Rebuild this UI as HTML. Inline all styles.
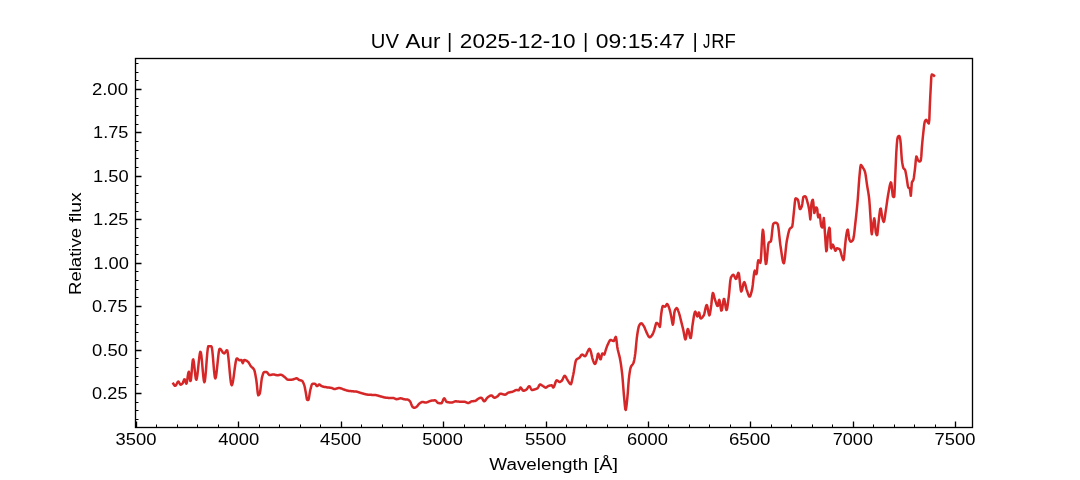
<!DOCTYPE html>
<html lang="en"><head><meta charset="utf-8"><title>UV Aur spectrum</title>
<style>
html,body{margin:0;padding:0;background:#fff;overflow:hidden}
svg{display:block;will-change:transform}
text{font-family:"Liberation Sans",sans-serif;fill:#000}
</style></head><body>
<svg width="1080" height="480" viewBox="0 0 1080 480">
<rect x="0" y="0" width="1080" height="480" fill="#ffffff"/>
<polyline fill="none" stroke="#d62728" stroke-width="2.5" stroke-linejoin="round" stroke-linecap="square" points="173.3,383.7 173.8,384.6 174.3,385.3 174.8,385.7 175.3,385.8 175.8,385.5 176.3,384.7 176.8,383.7 177.3,382.7 177.8,381.9 178.3,381.6 178.8,382.0 179.3,382.8 179.8,383.8 180.3,384.6 180.8,384.7 181.3,384.5 181.8,384.1 182.3,383.6 182.8,383.0 183.3,381.8 183.8,380.3 184.3,379.3 184.8,379.5 185.3,380.9 185.8,382.7 186.3,383.7 186.8,382.8 187.3,379.8 187.8,376.0 188.3,372.9 188.8,371.7 189.3,374.0 189.8,378.0 190.3,381.0 190.8,380.6 191.3,376.4 191.8,370.3 192.3,364.2 192.8,360.0 193.3,359.4 193.8,361.8 194.3,365.9 194.8,370.7 195.3,375.3 195.8,378.7 196.3,379.8 196.8,378.5 197.3,375.5 197.8,371.3 198.3,366.5 198.8,361.6 199.3,357.2 199.8,353.7 200.3,351.9 200.8,352.2 201.3,355.0 201.8,359.6 202.3,365.2 202.8,371.1 203.3,376.4 203.8,380.4 204.3,382.2 204.8,381.3 205.3,377.6 205.8,372.1 206.3,365.6 206.8,358.9 207.3,352.9 207.8,348.4 208.3,346.3 208.8,346.2 209.3,346.2 209.8,346.2 210.3,346.2 210.8,346.2 211.3,346.2 211.8,347.2 212.3,350.6 212.8,355.7 213.3,361.7 213.8,367.8 214.3,373.1 214.8,377.0 215.3,378.4 215.8,377.3 216.3,374.5 216.8,370.4 217.3,365.6 217.8,360.6 218.3,355.8 218.8,352.0 219.3,349.4 219.8,348.8 220.3,349.0 220.8,349.5 221.3,350.1 221.8,350.9 222.3,351.7 222.8,352.4 223.3,353.0 223.8,353.3 224.3,353.4 224.8,352.9 225.3,352.2 225.8,351.4 226.3,350.7 226.8,350.2 227.3,350.6 227.8,352.9 228.3,356.8 228.8,361.7 229.3,367.2 229.8,372.7 230.3,377.8 230.8,381.9 231.3,384.6 231.8,385.3 232.3,384.3 232.8,382.2 233.3,379.2 233.8,375.7 234.3,371.8 234.8,368.0 235.3,364.5 235.8,361.5 236.3,359.4 236.8,358.4 237.3,358.5 237.8,358.9 238.3,359.4 238.8,359.8 239.3,360.2 239.8,360.3 240.3,360.2 240.8,360.1 241.3,360.0 241.8,360.5 242.3,362.3 242.8,363.1 243.3,362.0 243.8,360.5 244.3,360.0 244.8,360.1 245.3,360.2 245.8,360.4 246.3,360.6 246.8,360.9 247.3,361.3 247.8,361.6 248.3,362.1 248.8,362.8 249.3,363.6 249.8,364.5 250.3,365.4 250.8,366.1 251.3,366.7 251.8,367.2 252.3,367.6 252.8,368.0 253.3,368.5 253.8,369.2 254.3,370.1 254.8,371.9 255.3,374.3 255.8,377.1 256.3,380.0 256.8,384.0 257.3,389.1 257.8,393.5 258.3,395.3 258.8,395.0 259.3,394.4 259.8,393.5 260.3,390.8 260.8,386.6 261.3,382.1 261.8,378.4 262.3,376.4 262.8,374.7 263.3,373.2 263.8,372.3 264.3,372.0 264.8,372.0 265.3,372.0 265.8,372.0 266.3,372.0 266.8,372.2 267.3,372.6 267.8,373.2 268.3,373.9 268.8,374.5 269.3,374.9 269.8,375.0 270.3,375.0 270.8,374.9 271.3,374.8 271.8,374.7 272.3,374.6 272.8,374.5 273.3,374.5 273.8,374.5 274.3,374.6 274.8,374.7 275.3,374.9 275.8,375.0 276.3,375.1 276.8,375.2 277.3,375.3 277.8,375.3 278.3,375.2 278.8,375.1 279.3,375.0 279.8,374.8 280.3,374.7 280.8,374.7 281.3,374.8 281.8,375.0 282.3,375.3 282.8,375.6 283.3,376.0 283.8,376.4 284.3,376.8 284.8,377.2 285.3,377.7 285.8,378.2 286.3,378.7 286.8,379.2 287.3,379.5 287.8,379.7 288.3,379.7 288.8,379.7 289.3,379.7 289.8,379.7 290.3,379.7 290.8,379.7 291.3,379.7 291.8,379.7 292.3,379.6 292.8,379.5 293.3,379.4 293.8,379.2 294.3,379.0 294.8,378.8 295.3,378.6 295.8,378.4 296.3,378.3 296.8,378.3 297.3,378.5 297.8,378.9 298.3,379.3 298.8,379.8 299.3,380.0 299.8,380.2 300.3,380.3 300.8,380.4 301.3,380.5 301.8,380.7 302.3,381.0 302.8,381.7 303.3,382.7 303.8,383.9 304.3,385.3 304.8,387.3 305.3,389.9 305.8,392.5 306.3,395.7 306.8,398.9 307.3,400.0 307.8,400.0 308.3,400.0 308.8,398.8 309.3,395.9 309.8,392.6 310.3,390.0 310.8,388.1 311.3,386.2 311.8,384.7 312.3,383.9 312.8,383.8 313.3,383.8 313.8,383.8 314.3,383.8 314.8,383.8 315.3,383.9 315.8,384.6 316.3,385.5 316.8,386.1 317.3,386.1 317.8,385.7 318.3,385.1 318.8,384.6 319.3,384.5 319.8,384.7 320.3,385.1 320.8,385.6 321.3,386.0 321.8,386.2 322.3,386.4 322.8,386.5 323.3,386.7 323.8,386.8 324.3,386.9 324.8,387.0 325.3,387.1 325.8,387.1 326.3,387.2 326.8,387.3 327.3,387.4 327.8,387.5 328.3,387.5 328.8,387.6 329.3,387.6 329.8,387.7 330.3,387.8 330.8,387.8 331.3,387.9 331.8,388.0 332.3,388.2 332.8,388.5 333.3,388.7 333.8,388.9 334.3,389.0 334.8,389.0 335.3,388.9 335.8,388.8 336.3,388.6 336.8,388.5 337.3,388.3 337.8,388.2 338.3,388.1 338.8,388.0 339.3,388.0 339.8,388.1 340.3,388.2 340.8,388.3 341.3,388.5 341.8,388.7 342.3,388.9 342.8,389.1 343.3,389.3 343.8,389.5 344.3,389.6 344.8,389.8 345.3,390.0 345.8,390.1 346.3,390.3 346.8,390.5 347.3,390.6 347.8,390.7 348.3,390.8 348.8,390.9 349.3,390.9 349.8,391.0 350.3,391.1 350.8,391.1 351.3,391.2 351.8,391.2 352.3,391.2 352.8,391.3 353.3,391.3 353.8,391.4 354.3,391.4 354.8,391.5 355.3,391.5 355.8,391.6 356.3,391.6 356.8,391.7 357.3,391.8 357.8,391.9 358.3,392.1 358.8,392.3 359.3,392.4 359.8,392.6 360.3,392.8 360.8,392.9 361.3,393.1 361.8,393.2 362.3,393.4 362.8,393.5 363.3,393.6 363.8,393.8 364.3,393.9 364.8,394.1 365.3,394.2 365.8,394.3 366.3,394.4 366.8,394.5 367.3,394.6 367.8,394.7 368.3,394.7 368.8,394.7 369.3,394.8 369.8,394.8 370.3,394.8 370.8,394.8 371.3,394.8 371.8,394.9 372.3,394.9 372.8,394.9 373.3,394.9 373.8,394.9 374.3,395.0 374.8,395.0 375.3,395.0 375.8,395.1 376.3,395.2 376.8,395.3 377.3,395.4 377.8,395.6 378.3,395.7 378.8,395.9 379.3,396.0 379.8,396.2 380.3,396.3 380.8,396.5 381.3,396.6 381.8,396.7 382.3,396.8 382.8,397.0 383.3,397.1 383.8,397.3 384.3,397.4 384.8,397.5 385.3,397.6 385.8,397.7 386.3,397.8 386.8,397.8 387.3,397.8 387.8,397.8 388.3,397.9 388.8,397.9 389.3,397.9 389.8,397.9 390.3,397.9 390.8,397.9 391.3,397.9 391.8,397.9 392.3,398.0 392.8,398.0 393.3,398.0 393.8,398.1 394.3,398.3 394.8,398.5 395.3,398.8 395.8,399.0 396.3,399.2 396.8,399.2 397.3,399.1 397.8,399.0 398.3,398.9 398.8,398.7 399.3,398.6 399.8,398.4 400.3,398.3 400.8,398.3 401.3,398.4 401.8,398.5 402.3,398.7 402.8,398.9 403.3,399.1 403.8,399.2 404.3,399.3 404.8,399.3 405.3,399.4 405.8,399.4 406.3,399.4 406.8,399.4 407.3,399.5 407.8,399.6 408.3,399.8 408.8,400.1 409.3,400.6 409.8,401.1 410.3,401.7 410.8,402.8 411.3,404.2 411.8,405.5 412.3,406.5 412.8,407.0 413.3,407.4 413.8,407.7 414.3,407.8 414.8,407.7 415.3,407.5 415.8,407.3 416.3,407.0 416.8,406.6 417.3,406.1 417.8,405.4 418.3,404.7 418.8,404.1 419.3,403.6 419.8,403.3 420.3,402.9 420.8,402.6 421.3,402.3 421.8,402.1 422.3,402.0 422.8,402.0 423.3,402.1 423.8,402.2 424.3,402.3 424.8,402.4 425.3,402.5 425.8,402.5 426.3,402.5 426.8,402.4 427.3,402.2 427.8,402.0 428.3,401.8 428.8,401.5 429.3,401.3 429.8,401.1 430.3,400.9 430.8,400.8 431.3,400.7 431.8,400.6 432.3,400.5 432.8,400.5 433.3,400.4 433.8,400.4 434.3,400.3 434.8,400.3 435.3,400.4 435.8,400.7 436.3,401.2 436.8,401.8 437.3,402.3 437.8,402.8 438.3,403.0 438.8,403.1 439.3,403.2 439.8,403.2 440.3,403.3 440.8,403.3 441.3,403.3 441.8,402.9 442.3,401.9 442.8,400.7 443.3,399.4 443.8,398.6 444.3,398.3 444.8,398.8 445.3,399.8 445.8,400.8 446.3,401.7 446.8,402.0 447.3,402.1 447.8,402.2 448.3,402.3 448.8,402.3 449.3,402.4 449.8,402.4 450.3,402.5 450.8,402.5 451.3,402.5 451.8,402.5 452.3,402.4 452.8,402.3 453.3,402.1 453.8,401.9 454.3,401.7 454.8,401.5 455.3,401.3 455.8,401.3 456.3,401.3 456.8,401.4 457.3,401.4 457.8,401.5 458.3,401.6 458.8,401.6 459.3,401.7 459.8,401.7 460.3,401.7 460.8,401.7 461.3,401.7 461.8,401.7 462.3,401.7 462.8,401.7 463.3,401.7 463.8,401.7 464.3,401.7 464.8,401.8 465.3,401.9 465.8,402.1 466.3,402.4 466.8,402.6 467.3,402.8 467.8,402.9 468.3,403.0 468.8,402.9 469.3,402.7 469.8,402.4 470.3,402.0 470.8,401.7 471.3,401.4 471.8,401.3 472.3,401.2 472.8,401.2 473.3,401.2 473.8,401.1 474.3,401.1 474.8,401.0 475.3,400.9 475.8,400.7 476.3,400.3 476.8,399.8 477.3,399.4 477.8,399.0 478.3,398.7 478.8,398.5 479.3,398.2 479.8,398.0 480.3,397.9 480.8,397.7 481.3,397.7 481.8,398.0 482.3,398.7 482.8,399.6 483.3,400.5 483.8,401.1 484.3,401.3 484.8,401.0 485.3,400.5 485.8,399.8 486.3,399.0 486.8,398.3 487.3,397.7 487.8,397.3 488.3,396.9 488.8,396.5 489.3,396.2 489.8,395.9 490.3,395.7 490.8,395.6 491.3,395.5 491.8,395.6 492.3,396.0 492.8,396.5 493.3,397.0 493.8,397.4 494.3,397.7 494.8,397.7 495.3,397.6 495.8,397.3 496.3,397.1 496.8,396.7 497.3,396.4 497.8,396.1 498.3,395.5 498.8,394.9 499.3,394.3 499.8,393.9 500.3,393.7 500.8,393.7 501.3,393.8 501.8,393.9 502.3,394.1 502.8,394.2 503.3,394.4 503.8,394.5 504.3,394.6 504.8,394.7 505.3,394.7 505.8,394.5 506.3,394.1 506.8,393.7 507.3,393.3 507.8,392.9 508.3,392.7 508.8,392.5 509.3,392.4 509.8,392.3 510.3,392.2 510.8,392.1 511.3,392.0 511.8,391.9 512.3,391.8 512.8,391.6 513.3,391.4 513.8,391.1 514.3,390.9 514.8,390.6 515.3,390.3 515.8,390.2 516.3,390.0 516.8,390.0 517.3,390.1 517.8,390.2 518.3,390.3 518.8,390.3 519.3,389.6 519.8,388.4 520.3,387.6 520.8,387.6 521.3,388.2 521.8,389.0 522.3,389.8 522.8,390.5 523.3,390.8 523.8,390.8 524.3,390.6 524.8,390.5 525.3,390.2 525.8,390.0 526.3,389.7 526.8,389.2 527.3,388.5 527.8,387.7 528.3,386.9 528.8,386.4 529.3,386.2 529.8,386.6 530.3,387.5 530.8,388.5 531.3,389.4 531.8,389.9 532.3,390.0 532.8,389.9 533.3,389.8 533.8,389.7 534.3,389.5 534.8,389.4 535.3,389.2 535.8,389.1 536.3,388.9 536.8,388.7 537.3,388.4 537.8,388.0 538.3,387.1 538.8,386.1 539.3,385.1 539.8,384.6 540.3,384.5 540.8,384.7 541.3,384.9 541.8,385.3 542.3,385.6 542.8,386.0 543.3,386.3 543.8,386.6 544.3,387.0 544.8,387.3 545.3,387.6 545.8,387.7 546.3,387.5 546.8,387.2 547.3,386.7 547.8,386.3 548.3,386.0 548.8,385.8 549.3,385.7 549.8,385.6 550.3,385.4 550.8,385.4 551.3,385.3 551.8,385.3 552.3,386.0 552.8,387.0 553.3,387.5 553.8,387.1 554.3,386.0 554.8,384.5 555.3,383.0 555.8,381.5 556.3,380.6 556.8,380.3 557.3,380.5 557.8,380.8 558.3,381.2 558.8,381.6 559.3,381.9 559.8,382.0 560.3,381.8 560.8,381.5 561.3,381.1 561.8,380.7 562.3,380.0 562.8,378.9 563.3,377.8 563.8,376.7 564.3,376.0 564.8,375.8 565.3,376.2 565.8,376.9 566.3,377.8 566.8,378.8 567.3,379.7 567.8,380.4 568.3,381.3 568.8,382.1 569.3,382.9 569.8,383.6 570.3,384.0 570.8,384.2 571.3,383.5 571.8,381.7 572.3,379.3 572.8,376.8 573.3,374.5 573.8,371.8 574.3,368.7 574.8,365.6 575.3,362.9 575.8,360.8 576.3,359.7 576.8,359.3 577.3,358.9 577.8,358.6 578.3,358.4 578.8,358.1 579.3,357.8 579.8,357.3 580.3,356.6 580.8,355.8 581.3,355.1 581.8,354.7 582.3,354.6 582.8,354.8 583.3,355.2 583.8,355.6 584.3,356.0 584.8,356.2 585.3,356.1 585.8,355.5 586.3,354.6 586.8,353.4 587.3,352.3 587.8,351.3 588.3,350.3 588.8,349.3 589.3,348.8 589.8,349.1 590.3,350.1 590.8,351.5 591.3,353.4 591.8,355.8 592.3,358.1 592.8,359.6 593.3,361.1 593.8,362.4 594.3,363.4 594.8,363.9 595.3,363.8 595.8,362.7 596.3,361.1 596.8,359.4 597.3,356.7 597.8,354.1 598.3,353.6 598.8,354.6 599.3,356.3 599.8,358.0 600.3,359.2 600.8,359.2 601.3,357.2 601.8,354.7 602.3,353.5 602.8,353.7 603.3,354.0 603.8,354.4 604.3,354.6 604.8,353.3 605.3,351.5 605.8,349.9 606.3,348.4 606.8,346.9 607.3,345.6 607.8,344.5 608.3,343.4 608.8,342.3 609.3,341.3 609.8,340.5 610.3,340.1 610.8,340.0 611.3,340.1 611.8,340.3 612.3,340.6 612.8,340.8 613.3,340.9 613.8,341.0 614.3,340.3 614.8,338.9 615.3,337.5 615.8,336.9 616.3,338.7 616.8,342.8 617.3,347.0 617.8,349.8 618.3,351.8 618.8,353.7 619.3,355.6 619.8,357.7 620.3,360.4 620.8,363.4 621.3,366.9 621.8,370.8 622.3,375.2 622.8,381.0 623.3,387.5 623.8,393.9 624.3,399.3 624.8,404.9 625.3,409.3 625.8,409.9 626.3,407.3 626.8,403.0 627.3,398.3 627.8,392.6 628.3,385.6 628.8,379.3 629.3,375.2 629.8,371.7 630.3,368.9 630.8,367.1 631.3,366.1 631.8,365.4 632.3,364.8 632.8,364.2 633.3,363.4 633.8,362.0 634.3,359.7 634.8,356.8 635.3,353.4 635.8,348.5 636.3,343.0 636.8,338.1 637.3,334.5 637.8,331.3 638.3,328.6 638.8,326.4 639.3,325.2 639.8,324.5 640.3,323.8 640.8,323.4 641.3,323.3 641.8,323.5 642.3,324.0 642.8,324.6 643.3,325.4 643.8,326.2 644.3,327.0 644.8,328.1 645.3,329.4 645.8,330.6 646.3,331.9 646.8,332.9 647.3,333.9 647.8,335.0 648.3,336.0 648.8,336.7 649.3,337.2 649.8,337.3 650.3,337.1 650.8,336.7 651.3,336.1 651.8,335.5 652.3,334.8 652.8,333.9 653.3,332.7 653.8,331.3 654.3,329.9 654.8,328.2 655.3,326.1 655.8,324.2 656.3,323.0 656.8,322.9 657.3,323.2 657.8,323.7 658.3,324.2 658.8,324.9 659.3,326.1 659.8,327.0 660.3,324.6 660.8,317.5 661.3,313.5 661.8,310.0 662.3,307.3 662.8,306.0 663.3,306.1 663.8,306.3 664.3,306.5 664.8,306.7 665.3,306.6 665.8,305.8 666.3,304.9 666.8,304.1 667.3,304.1 667.8,304.7 668.3,305.7 668.8,307.0 669.3,308.4 669.8,310.1 670.3,312.1 670.8,314.4 671.3,316.7 671.8,319.8 672.3,322.9 672.8,324.7 673.3,323.1 673.8,318.0 674.3,312.9 674.8,310.7 675.3,309.6 675.8,308.8 676.3,308.2 676.8,308.1 677.3,308.6 677.8,309.7 678.3,311.1 678.8,312.4 679.3,314.0 679.8,315.8 680.3,317.8 680.8,319.9 681.3,321.9 681.8,323.9 682.3,325.9 682.8,327.9 683.3,330.0 683.8,332.6 684.3,335.5 684.8,338.1 685.3,339.4 685.8,338.7 686.3,336.3 686.8,333.3 687.3,330.5 687.8,329.0 688.3,329.6 688.8,331.4 689.3,333.9 689.8,336.3 690.3,338.0 690.8,338.0 691.3,335.4 691.8,331.2 692.3,326.6 692.8,323.2 693.3,320.0 693.8,316.8 694.3,314.1 694.8,312.2 695.3,311.7 695.8,312.5 696.3,313.9 696.8,315.4 697.3,316.4 697.8,316.1 698.3,314.2 698.8,312.5 699.3,312.9 699.8,315.4 700.3,317.9 700.8,318.5 701.3,318.3 701.8,317.9 702.3,317.4 702.8,316.8 703.3,316.1 703.8,315.3 704.3,313.9 704.8,311.7 705.3,309.3 705.8,307.0 706.3,305.4 706.8,305.0 707.3,306.3 707.8,308.8 708.3,311.6 708.8,314.1 709.3,315.4 709.8,314.6 710.3,311.8 710.8,308.4 711.3,304.9 711.8,300.0 712.3,295.5 712.8,293.0 713.3,293.4 713.8,295.0 714.3,297.2 714.8,299.2 715.3,300.7 715.8,302.2 716.3,303.7 716.8,304.9 717.3,305.8 717.8,305.9 718.3,303.8 718.8,300.9 719.3,299.9 719.8,301.7 720.3,304.9 720.8,308.4 721.3,310.6 721.8,310.3 722.3,307.9 722.8,304.4 723.3,301.1 723.8,299.0 724.3,299.2 724.8,301.5 725.3,304.8 725.8,308.0 726.3,310.0 726.8,309.8 727.3,307.6 727.8,304.2 728.3,300.2 728.8,296.3 729.3,291.5 729.8,285.7 730.3,280.7 730.8,277.9 731.3,276.9 731.8,276.0 732.3,275.4 732.8,274.9 733.3,274.8 733.8,275.2 734.3,276.1 734.8,277.2 735.3,278.3 735.8,278.9 736.3,278.7 736.8,277.5 737.3,275.7 737.8,273.9 738.3,272.8 738.8,273.3 739.3,276.5 739.8,281.3 740.3,286.3 740.8,290.2 741.3,291.5 741.8,290.6 742.3,288.8 742.8,286.4 743.3,284.2 743.8,282.6 744.3,282.1 744.8,282.9 745.3,284.4 745.8,286.4 746.3,288.4 746.8,290.1 747.3,291.5 747.8,293.1 748.3,294.6 748.8,295.8 749.3,296.6 749.8,296.6 750.3,295.9 750.8,294.5 751.3,292.7 751.8,290.6 752.3,288.4 752.8,284.7 753.3,280.0 753.8,275.5 754.3,272.0 754.8,270.6 755.3,271.4 755.8,272.9 756.3,274.2 756.8,273.1 757.3,267.9 757.8,262.2 758.3,260.2 758.8,260.7 759.3,261.5 759.8,262.3 760.3,262.8 760.8,260.5 761.3,253.0 761.8,243.2 762.3,234.4 762.8,229.8 763.3,231.2 763.8,236.7 764.3,244.5 764.8,252.8 765.3,259.9 765.8,264.0 766.3,263.7 766.8,260.1 767.3,254.6 767.8,248.9 768.3,244.3 768.8,242.5 769.3,242.2 769.8,242.0 770.3,241.8 770.8,241.5 771.3,239.4 771.8,235.2 772.3,230.1 772.8,225.8 773.3,223.8 773.8,223.3 774.3,223.0 774.8,222.8 775.3,222.7 775.8,222.7 776.3,222.9 776.8,223.2 777.3,223.6 777.8,224.4 778.3,227.0 778.8,230.9 779.3,235.6 779.8,240.3 780.3,244.6 780.8,248.0 781.3,251.4 781.8,254.9 782.3,258.2 782.8,260.9 783.3,262.7 783.8,263.3 784.3,261.8 784.8,258.5 785.3,254.1 785.8,249.2 786.3,244.5 786.8,240.9 787.3,238.4 787.8,235.9 788.3,233.6 788.8,231.6 789.3,229.9 789.8,228.8 790.3,228.2 790.8,227.9 791.3,227.6 791.8,227.3 792.3,226.3 792.8,222.7 793.3,217.6 793.8,212.9 794.3,207.9 794.8,202.7 795.3,199.0 795.8,198.3 796.3,198.5 796.8,198.8 797.3,199.2 797.8,199.7 798.3,201.0 798.8,203.8 799.3,206.9 799.8,209.0 800.3,209.1 800.8,208.5 801.3,207.5 801.8,206.3 802.3,204.0 802.8,200.1 803.3,197.1 803.8,196.6 804.3,196.4 804.8,196.3 805.3,196.3 805.8,196.8 806.3,198.0 806.8,199.6 807.3,201.5 807.8,203.3 808.3,205.3 808.8,207.8 809.3,210.6 809.8,215.1 810.3,219.4 810.8,214.9 811.3,204.9 811.8,201.8 812.3,200.4 812.8,199.8 813.3,202.2 813.8,208.5 814.3,213.1 814.8,211.8 815.3,208.4 815.8,207.5 816.3,207.6 816.8,207.9 817.3,209.2 817.8,215.5 818.3,217.3 818.8,216.1 819.3,214.7 819.8,214.8 820.3,218.7 820.8,223.7 821.3,226.3 821.8,227.0 822.3,227.4 822.8,227.3 823.3,221.7 823.8,218.0 824.3,222.9 824.8,231.3 825.3,238.4 825.8,246.1 826.3,251.3 826.8,250.3 827.3,243.1 827.8,236.0 828.3,232.6 828.8,229.7 829.3,227.8 829.8,228.7 830.3,238.1 830.8,247.6 831.3,248.4 831.8,246.9 832.3,245.2 832.8,244.6 833.3,245.4 833.8,246.7 834.3,248.0 834.8,249.6 835.3,250.8 835.8,250.4 836.3,249.2 836.8,248.3 837.3,248.3 837.8,248.4 838.3,248.6 838.8,248.8 839.3,249.0 839.8,249.4 840.3,250.6 840.8,252.3 841.3,254.3 841.8,256.2 842.3,257.6 842.8,259.1 843.3,260.1 843.8,259.3 844.3,254.9 844.8,248.9 845.3,243.7 845.8,238.9 846.3,235.1 846.8,232.3 847.3,230.2 847.8,229.7 848.3,232.1 848.8,236.2 849.3,239.3 849.8,240.5 850.3,241.4 850.8,241.7 851.3,241.6 851.8,241.3 852.3,240.7 852.8,240.1 853.3,239.1 853.8,236.6 854.3,232.8 854.8,228.2 855.3,223.5 855.8,219.1 856.3,214.5 856.8,209.7 857.3,204.5 857.8,198.8 858.3,192.0 858.8,184.7 859.3,178.2 859.8,172.6 860.3,167.3 860.8,165.0 861.3,165.2 861.8,165.9 862.3,166.7 862.8,167.5 863.3,168.3 863.8,169.1 864.3,170.1 864.8,171.3 865.3,173.1 865.8,176.0 866.3,179.6 866.8,183.3 867.3,186.6 867.8,189.5 868.3,192.4 868.8,195.7 869.3,200.0 869.8,206.5 870.3,214.3 870.8,222.0 871.3,231.0 871.8,234.3 872.3,231.1 872.8,226.7 873.3,223.4 873.8,220.2 874.3,218.4 874.8,220.8 875.3,227.4 875.8,232.3 876.3,234.0 876.8,235.2 877.3,234.9 877.8,230.5 878.3,224.8 878.8,220.4 879.3,215.7 879.8,211.6 880.3,208.8 880.8,208.6 881.3,211.1 881.8,214.8 882.3,217.7 882.8,219.7 883.3,221.3 883.8,221.9 884.3,220.5 884.8,217.5 885.3,213.9 885.8,210.4 886.3,207.1 886.8,203.6 887.3,200.0 887.8,196.7 888.3,193.8 888.8,191.0 889.3,188.1 889.8,185.5 890.3,183.5 890.8,182.4 891.3,183.1 891.8,187.0 892.3,192.2 892.8,196.1 893.3,196.9 893.8,196.9 894.3,196.5 894.8,187.0 895.3,175.0 895.8,163.5 896.3,152.5 896.8,144.8 897.3,139.3 897.8,137.0 898.3,136.4 898.8,136.1 899.3,136.0 899.8,137.3 900.3,139.7 900.8,144.3 901.3,152.3 901.8,159.3 902.3,163.0 902.8,165.9 903.3,167.9 903.8,168.7 904.3,169.1 904.8,169.5 905.3,170.6 905.8,172.9 906.3,175.8 906.8,178.7 907.3,182.2 907.8,185.6 908.3,187.5 908.8,187.9 909.3,188.1 909.8,188.5 910.3,192.3 910.8,195.8 911.3,190.3 911.8,182.8 912.3,181.5 912.8,181.0 913.3,180.2 913.8,178.0 914.3,174.4 914.8,170.3 915.3,165.9 915.8,160.2 916.3,156.6 916.8,157.0 917.3,158.4 917.8,159.9 918.3,160.6 918.8,161.1 919.3,161.4 919.8,161.5 920.3,161.2 920.8,160.3 921.3,156.4 921.8,148.4 922.3,142.6 922.8,137.5 923.3,132.9 923.8,128.2 924.3,123.9 924.8,121.5 925.3,120.6 925.8,120.0 926.3,119.8 926.8,120.4 927.3,121.4 927.8,122.4 928.3,123.0 928.8,123.4 929.3,120.1 929.8,106.6 930.3,95.8 930.8,86.5 931.3,76.6 931.8,74.5 932.3,74.6 932.8,74.8 933.3,75.1 933.8,75.5 934.0,75.7"/>
<path d="M156.5 427.5V424.5M177.5 427.5V424.5M197.5 427.5V424.5M218.5 427.5V424.5M259.5 427.5V424.5M279.5 427.5V424.5M300.5 427.5V424.5M320.5 427.5V424.5M361.5 427.5V424.5M382.5 427.5V424.5M402.5 427.5V424.5M423.5 427.5V424.5M464.5 427.5V424.5M484.5 427.5V424.5M505.5 427.5V424.5M525.5 427.5V424.5M566.5 427.5V424.5M586.5 427.5V424.5M607.5 427.5V424.5M627.5 427.5V424.5M668.5 427.5V424.5M689.5 427.5V424.5M709.5 427.5V424.5M730.5 427.5V424.5M771.5 427.5V424.5M791.5 427.5V424.5M812.5 427.5V424.5M832.5 427.5V424.5M873.5 427.5V424.5M894.5 427.5V424.5M914.5 427.5V424.5M935.5 427.5V424.5M135.5 419.5H138.5M135.5 410.5H138.5M135.5 402.5H138.5M135.5 384.5H138.5M135.5 376.5H138.5M135.5 367.5H138.5M135.5 358.5H138.5M135.5 341.5H138.5M135.5 332.5H138.5M135.5 324.5H138.5M135.5 315.5H138.5M135.5 297.5H138.5M135.5 289.5H138.5M135.5 280.5H138.5M135.5 271.5H138.5M135.5 254.5H138.5M135.5 245.5H138.5M135.5 237.5H138.5M135.5 228.5H138.5M135.5 211.5H138.5M135.5 202.5H138.5M135.5 193.5H138.5M135.5 185.5H138.5M135.5 167.5H138.5M135.5 158.5H138.5M135.5 150.5H138.5M135.5 141.5H138.5M135.5 124.5H138.5M135.5 115.5H138.5M135.5 106.5H138.5M135.5 98.5H138.5M135.5 80.5H138.5M135.5 72.5H138.5M135.5 63.5H138.5" stroke="#000" stroke-width="1" fill="none"/>
<path d="M136.5 427.5V421.5M238.5 427.5V421.5M341.5 427.5V421.5M443.5 427.5V421.5M546.5 427.5V421.5M648.5 427.5V421.5M750.5 427.5V421.5M853.5 427.5V421.5M955.5 427.5V421.5M135.5 393.5H141.5M135.5 350.5H141.5M135.5 306.5H141.5M135.5 263.5H141.5M135.5 219.5H141.5M135.5 176.5H141.5M135.5 132.5H141.5M135.5 89.5H141.5" stroke="#000" stroke-width="1.333" fill="none"/>
<rect x="135.5" y="58.5" width="837" height="369" fill="none" stroke="#000" stroke-width="1.333"/>
<text x="115.50" y="444.85" font-size="17.0" textLength="40.97" lengthAdjust="spacingAndGlyphs">3500</text>
<text x="218.28" y="444.85" font-size="17.0" textLength="40.94" lengthAdjust="spacingAndGlyphs">4000</text>
<text x="320.13" y="444.85" font-size="17.0" textLength="41.15" lengthAdjust="spacingAndGlyphs">4500</text>
<text x="422.32" y="444.85" font-size="17.0" textLength="40.59" lengthAdjust="spacingAndGlyphs">5000</text>
<text x="525.06" y="444.85" font-size="17.0" textLength="41.22" lengthAdjust="spacingAndGlyphs">5500</text>
<text x="627.12" y="444.85" font-size="17.0" textLength="40.80" lengthAdjust="spacingAndGlyphs">6000</text>
<text x="728.90" y="444.85" font-size="17.0" textLength="41.53" lengthAdjust="spacingAndGlyphs">6500</text>
<text x="832.83" y="444.85" font-size="17.0" textLength="40.08" lengthAdjust="spacingAndGlyphs">7000</text>
<text x="934.61" y="444.85" font-size="17.0" textLength="40.81" lengthAdjust="spacingAndGlyphs">7500</text>
<text x="92.14" y="398.90" font-size="17.0" textLength="35.37" lengthAdjust="spacingAndGlyphs">0.25</text>
<text x="92.13" y="355.90" font-size="17.0" textLength="35.89" lengthAdjust="spacingAndGlyphs">0.50</text>
<text x="92.14" y="311.90" font-size="17.0" textLength="35.37" lengthAdjust="spacingAndGlyphs">0.75</text>
<text x="93.30" y="268.90" font-size="17.0" textLength="35.66" lengthAdjust="spacingAndGlyphs">1.00</text>
<text x="93.12" y="224.90" font-size="17.0" textLength="35.29" lengthAdjust="spacingAndGlyphs">1.25</text>
<text x="93.10" y="181.90" font-size="17.0" textLength="35.66" lengthAdjust="spacingAndGlyphs">1.50</text>
<text x="93.12" y="137.90" font-size="17.0" textLength="35.29" lengthAdjust="spacingAndGlyphs">1.75</text>
<text x="91.92" y="94.90" font-size="17.0" textLength="36.11" lengthAdjust="spacingAndGlyphs">2.00</text>
<text y="469.8" font-size="17.3"><tspan x="489.32" textLength="98.84" lengthAdjust="spacingAndGlyphs">Wavelength</tspan> <tspan x="593.64" textLength="24.28" lengthAdjust="spacingAndGlyphs">[Å]</tspan></text>
<text transform="translate(80.9 293.5) rotate(-90)" y="0" font-size="17.3"><tspan x="-1.52" textLength="67.15" lengthAdjust="spacingAndGlyphs">Relative</tspan> <tspan x="71.02" textLength="30.19" lengthAdjust="spacingAndGlyphs">flux</tspan></text>
<text y="48.0" font-size="20.4"><tspan x="370.84" textLength="28.11" lengthAdjust="spacingAndGlyphs">UV</tspan> <tspan x="405.51" textLength="34.90" lengthAdjust="spacingAndGlyphs">Aur</tspan> <tspan x="447.12" textLength="5.33" lengthAdjust="spacingAndGlyphs">|</tspan> <tspan x="459.85" textLength="115.66" lengthAdjust="spacingAndGlyphs">2025-12-10</tspan> <tspan x="583.04" textLength="5.33" lengthAdjust="spacingAndGlyphs">|</tspan> <tspan x="595.87" textLength="88.99" lengthAdjust="spacingAndGlyphs">09:15:47</tspan> <tspan x="692.50" textLength="5.33" lengthAdjust="spacingAndGlyphs">|</tspan> <tspan x="703.05" textLength="7.31" lengthAdjust="spacingAndGlyphs">J</tspan><tspan x="711.26" textLength="24.58" lengthAdjust="spacingAndGlyphs">RF</tspan></text>
</svg>
</body></html>
